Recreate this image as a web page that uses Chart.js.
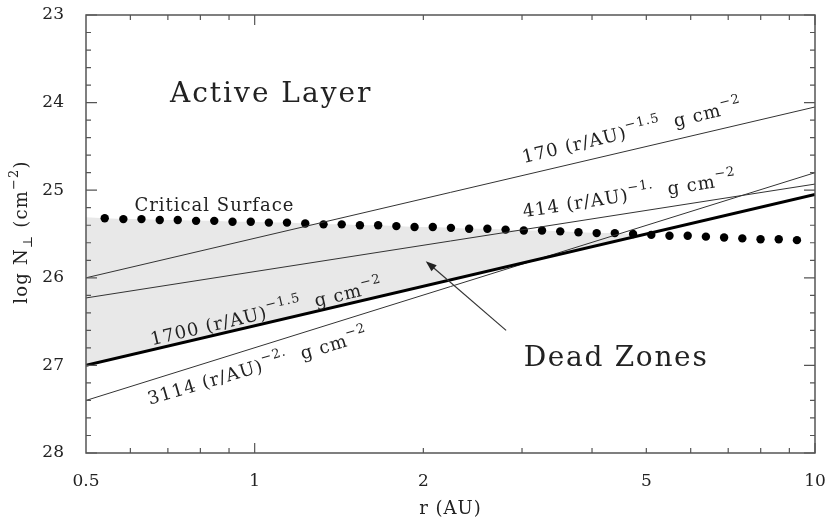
<!DOCTYPE html>
<html>
<head>
<meta charset="utf-8">
<script src="https://cdn.jsdelivr.net/npm/chart.js@4.4.1/dist/chart.umd.min.js"></script>
<style>
  html, body { margin: 0; padding: 0; background: #fff; }
  #wrap { width: 827px; height: 523px; }
</style>
</head>
<body>
<div id="wrap"><canvas id="myChart"></canvas></div>
<script>
// power-law surface densities, log N at r = 0.5 and r = 10 AU
var lineR = [0.5, 10];
var n1700 = [27.00, 25.05];
var n170 = [26.00, 24.05];
var n414 = [26.23, 24.93];
var n3114 = [27.40, 24.80];

// critical surface (dots)
var critR = [0.540, 0.583, 0.628, 0.677, 0.729, 0.786, 0.847, 0.913, 0.984, 1.060,
             1.142, 1.231, 1.327, 1.430, 1.541, 1.661, 1.790, 1.929, 2.079, 2.240,
             2.414, 2.602, 2.804, 3.022, 3.257, 3.510, 3.783, 4.077, 4.393, 4.735,
             5.103, 5.499, 5.927, 6.387, 6.883, 7.418, 7.995, 8.616, 9.285];
var critN = [25.32, 25.33, 25.33, 25.34, 25.34, 25.35, 25.35, 25.36, 25.36, 25.37,
             25.37, 25.38, 25.39, 25.39, 25.40, 25.40, 25.41, 25.42, 25.42, 25.43,
             25.44, 25.44, 25.45, 25.46, 25.46, 25.47, 25.48, 25.49, 25.49, 25.50,
             25.51, 25.52, 25.52, 25.53, 25.54, 25.55, 25.56, 25.56, 25.57];
// where the critical surface meets the plot edges
var critEdgeR = [0.5, 10];
var critEdgeN = [25.31, 25.58];

var xTicks = [0.5, 1, 2, 5, 10];
var xMinor = [0.6, 0.7, 0.8, 0.9, 2, 3, 4, 5, 6, 7, 8, 9];
var xMajor = [1, 10];

var FONT = 'DejaVu Serif';

function pts(xs, ys) {
    var out = [];
    for (var i = 0; i < xs.length; i++) out.push({x: xs[i], y: ys[i]});
    return out;
}

var critFill = [{x: critEdgeR[0], y: critEdgeN[0]}].concat(pts(critR, critN), [{x: critEdgeR[1], y: critEdgeN[1]}]);

// text annotations: parts are [text, 'n'|'sup'|'sub']
var notes = [
    {parts: [['Active Layer', 'n']], r: 0.706, n: 23.99, angle: 0, size: 28, sp: 2},
    {parts: [['Dead Zones', 'n']], r: 3.02, n: 27.01, angle: 0, size: 28, sp: 1.7},
    {parts: [['Critical Surface', 'n']], r: 0.61, n: 25.24, angle: 0, size: 18, sp: 1},
    {parts: [['170 (r/AU)', 'n'], ['\u22121.5', 'sup'], ['  g cm', 'n'], ['\u22122', 'sup']], r: 3.02, n: 24.69, angle: 13.4, size: 18, sp: 1},
    {parts: [['414 (r/AU)', 'n'], ['\u22121.', 'sup'], ['  g cm', 'n'], ['\u22122', 'sup']], r: 3.02, n: 25.31, angle: 8.9, size: 18, sp: 1},
    {parts: [['1700 (r/AU)', 'n'], ['\u22121.5', 'sup'], ['  g cm', 'n'], ['\u22122', 'sup']], r: 0.656, n: 26.77, angle: 13.2, size: 18, sp: 1},
    {parts: [['3114 (r/AU)', 'n'], ['\u22122.', 'sup'], ['  g cm', 'n'], ['\u22122', 'sup']], r: 0.650, n: 27.45, angle: 16.5, size: 18, sp: 1}
];
var arrowFrom = [2.81, 26.60];
var arrowTo = [2.02, 25.81];

function rich(ctx, parts, size, align, sp) {
    ctx.letterSpacing = (sp || 0) + 'px';
    var w = 0;
    parts.forEach(function(p) {
        ctx.font = (p[1] === 'n' ? size : Math.round(size * 0.72)) + 'px "' + FONT + '"';
        w += ctx.measureText(p[0]).width;
    });
    var cx = align === 'center' ? -w / 2 : 0;
    parts.forEach(function(p) {
        ctx.font = (p[1] === 'n' ? size : Math.round(size * 0.72)) + 'px "' + FONT + '"';
        var dy = p[1] === 'sup' ? -size * 0.5 : (p[1] === 'sub' ? size * 0.3 : 0);
        ctx.fillText(p[0], cx, dy);
        cx += ctx.measureText(p[0]).width;
    });
    ctx.letterSpacing = '0px';
}

var decor = {
    id: 'decor',
    afterDatasetsDraw: function(chart) {
        var ctx = chart.ctx, a = chart.chartArea, x = chart.scales.x, y = chart.scales.y;
        ctx.save();
        // frame
        ctx.strokeStyle = '#555';
        ctx.lineWidth = 1.5;
        ctx.strokeRect(a.left, a.top, a.right - a.left, a.bottom - a.top);
        // inward ticks
        ctx.lineWidth = 1.2;
        ctx.beginPath();
        function xt(v, len) {
            var px = x.getPixelForValue(v);
            ctx.moveTo(px, a.bottom); ctx.lineTo(px, a.bottom - len);
            ctx.moveTo(px, a.top); ctx.lineTo(px, a.top + len);
        }
        xMinor.forEach(function(v) { xt(v, 5); });
        xMajor.forEach(function(v) { xt(v, 10); });
        for (var k = 0; k <= 25; k++) {
            var py = y.getPixelForValue(23 + k * 0.2);
            var len = k % 5 === 0 ? 11 : 5;
            ctx.moveTo(a.left, py); ctx.lineTo(a.left + len, py);
            ctx.moveTo(a.right, py); ctx.lineTo(a.right - len, py);
        }
        ctx.stroke();

        // arrow
        var x0 = x.getPixelForValue(arrowFrom[0]), y0 = y.getPixelForValue(arrowFrom[1]);
        var x1 = x.getPixelForValue(arrowTo[0]), y1 = y.getPixelForValue(arrowTo[1]);
        var ang = Math.atan2(y1 - y0, x1 - x0);
        ctx.strokeStyle = '#333';
        ctx.fillStyle = '#222';
        ctx.lineWidth = 1.2;
        ctx.beginPath();
        ctx.moveTo(x0, y0);
        ctx.lineTo(x1 - 6 * Math.cos(ang), y1 - 6 * Math.sin(ang));
        ctx.stroke();
        ctx.beginPath();
        ctx.moveTo(x1, y1);
        ctx.lineTo(x1 - 11 * Math.cos(ang) + 4 * Math.sin(ang), y1 - 11 * Math.sin(ang) - 4 * Math.cos(ang));
        ctx.lineTo(x1 - 11 * Math.cos(ang) - 4 * Math.sin(ang), y1 - 11 * Math.sin(ang) + 4 * Math.cos(ang));
        ctx.closePath();
        ctx.fill();

        // labels
        ctx.fillStyle = '#222';
        ctx.textAlign = 'left';
        ctx.textBaseline = 'alphabetic';
        notes.forEach(function(t) {
            ctx.save();
            ctx.translate(x.getPixelForValue(t.r), y.getPixelForValue(t.n));
            ctx.rotate(-t.angle * Math.PI / 180);
            rich(ctx, t.parts, t.size, 'left', t.sp);
            ctx.restore();
        });

        // axis titles
        ctx.save();
        ctx.translate(27, 232);
        ctx.rotate(-Math.PI / 2);
        rich(ctx, [['log N', 'n'], ['\u22a5', 'sub'], [' (cm', 'n'], ['\u22122', 'sup'], [')', 'n']], 18, 'center', 1.2);
        ctx.restore();
        ctx.save();
        ctx.translate((a.left + a.right) / 2, 514);
        rich(ctx, [['r (AU)', 'n']], 18, 'center', 1);
        ctx.restore();
        ctx.restore();
    }
};

var ctx = document.getElementById('myChart').getContext('2d');
var chart = new Chart(ctx, {
    type: 'scatter',
    data: {
        datasets: [
            {data: pts(lineR, n1700), showLine: true, borderColor: '#000', borderWidth: 3, pointRadius: 0},
            {data: pts(lineR, n170), showLine: true, borderColor: '#333', borderWidth: 1, pointRadius: 0},
            {data: pts(lineR, n414), showLine: true, borderColor: '#333', borderWidth: 1, pointRadius: 0},
            {data: pts(lineR, n3114), showLine: true, borderColor: '#333', borderWidth: 1, pointRadius: 0},
            {data: critFill, showLine: true, borderColor: 'rgba(0,0,0,0)', borderWidth: 0, pointRadius: 0,
             fill: {target: 0, above: '#e8e8e8', below: 'rgba(0,0,0,0)'}},
            {data: pts(critR, critN), showLine: false, pointRadius: 4.2, pointBackgroundColor: '#000',
             pointBorderWidth: 0, pointBorderColor: '#000'}
        ]
    },
    options: {
        responsive: true,
        maintainAspectRatio: false,
        animation: false,
        layout: {padding: {top: 15, right: 12, left: 0, bottom: 0}},
        plugins: {
            legend: {display: false},
            tooltip: {enabled: false},
            filler: {drawTime: 'beforeDatasetsDraw'}
        },
        scales: {
            x: {
                type: 'logarithmic', min: 0.5, max: 10,
                grid: {display: false}, border: {display: false},
                afterBuildTicks: function(s) { s.ticks = xTicks.map(function(v) { return {value: v}; }); },
                afterFit: function(s) { s.height = 70; s.paddingLeft = 0; s.paddingRight = 0; },
                ticks: {autoSkip: false, maxRotation: 0, padding: 10, color: '#222',
                        font: {family: FONT, size: 17},
                        callback: function(v) { return String(v); }}
            },
            y: {
                min: 23, max: 28, reverse: true,
                grid: {display: false}, border: {display: false},
                afterFit: function(s) { s.width = 86; s.paddingTop = 0; s.paddingBottom = 0; },
                ticks: {stepSize: 1, padding: 14, color: '#222', font: {family: FONT, size: 17}}
            }
        }
    },
    plugins: [decor]
});
</script>
</body>
</html>
